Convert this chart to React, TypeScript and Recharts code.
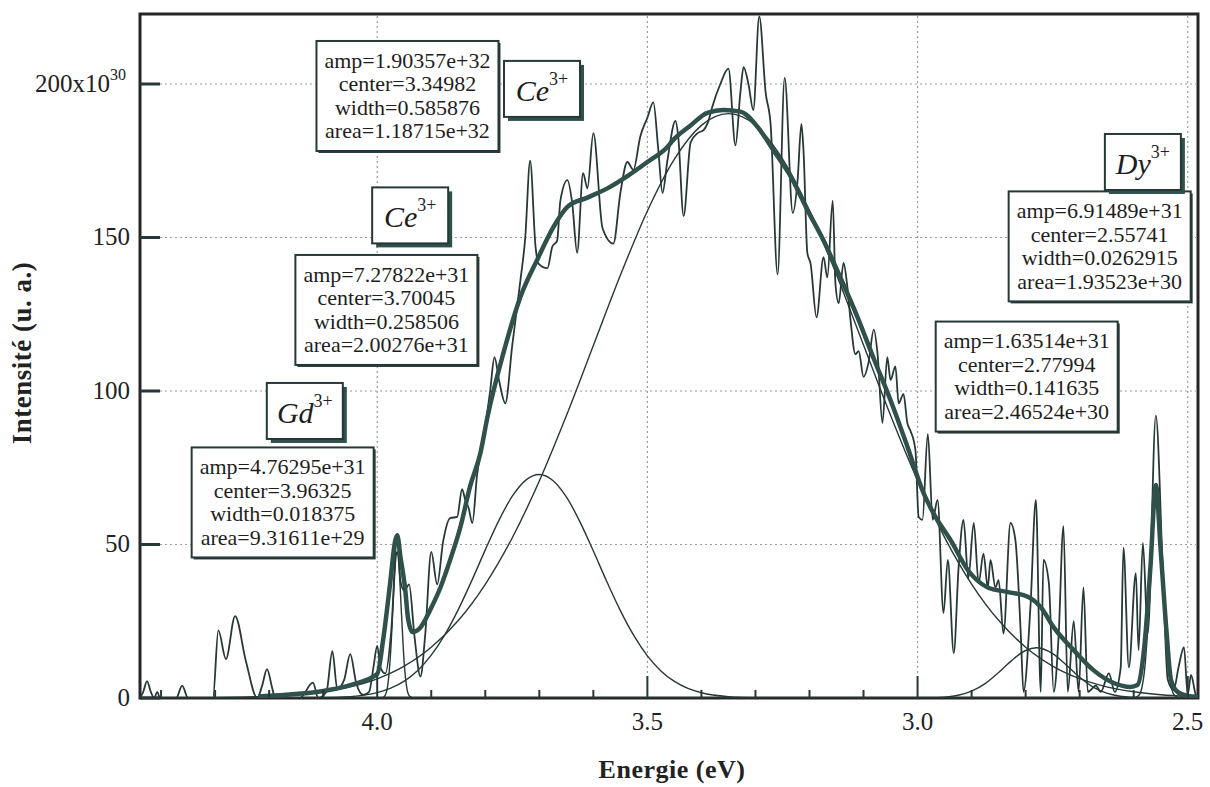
import React from 'react';
import {
  ComposedChart,
  Line,
  XAxis,
  YAxis,
  ReferenceLine,
  ReferenceArea,
  ReferenceDot
} from 'recharts';

// Energy axis (eV) runs right-to-left, intensity in units of 1e30
const X_MIN = 2.481;
const X_MAX = 4.439;
const Y_MAX = 222.8;

const X_TICKS = [2.5, 2.6, 2.7, 2.8, 2.9, 3.0, 3.1, 3.2, 3.3, 3.4, 3.5, 3.6, 3.7, 3.8, 3.9, 4.0, 4.1, 4.2, 4.3, 4.4];
const X_GRID = [2.5, 3.0, 3.5, 4.0];
const Y_TICKS = [0, 50, 100, 150, 200];
const Y_GRID = [50, 100, 150, 200];

// measured spectrum (noisy trace)
const SPEC_X = [
  4.439, 4.433, 4.426, 4.419, 4.413, 4.407, 4.402, 4.372, 4.361, 4.350, 4.304, 4.294, 4.280, 4.263, 4.243, 4.222,
  4.213, 4.204, 4.194, 4.189, 4.143, 4.119, 4.109, 4.094, 4.083, 4.074, 4.061, 4.050, 4.039, 4.026, 4.015, 4.007,
  4.000, 3.994, 3.985, 3.974, 3.963, 3.957, 3.950, 3.941, 3.931, 3.920, 3.911, 3.900, 3.889, 3.878, 3.865, 3.852,
  3.843, 3.837, 3.831, 3.824, 3.815, 3.804, 3.791, 3.783, 3.774, 3.763, 3.750, 3.735, 3.726, 3.717, 3.707, 3.702,
  3.685, 3.676, 3.667, 3.661, 3.648, 3.639, 3.630, 3.619, 3.611, 3.600, 3.583, 3.563, 3.550, 3.537, 3.526, 3.513,
  3.500, 3.489, 3.480, 3.472, 3.463, 3.448, 3.443, 3.433, 3.420, 3.407, 3.396, 3.387, 3.380, 3.365, 3.350, 3.337,
  3.328, 3.322, 3.313, 3.304, 3.293, 3.281, 3.272, 3.259, 3.246, 3.231, 3.222, 3.215, 3.211, 3.204, 3.198, 3.187,
  3.174, 3.167, 3.157, 3.152, 3.146, 3.137, 3.130, 3.124, 3.115, 3.109, 3.100, 3.091, 3.081, 3.074, 3.065, 3.056,
  3.050, 3.041, 3.035, 3.026, 3.019, 3.013, 3.004, 2.998, 2.991, 2.981, 2.972, 2.963, 2.952, 2.944, 2.933, 2.924,
  2.915, 2.906, 2.896, 2.887, 2.878, 2.870, 2.865, 2.856, 2.850, 2.841, 2.828, 2.819, 2.809, 2.804, 2.791, 2.781,
  2.772, 2.767, 2.757, 2.748, 2.739, 2.730, 2.722, 2.711, 2.702, 2.693, 2.685, 2.670, 2.661, 2.646, 2.635, 2.624,
  2.619, 2.609, 2.596, 2.591, 2.583, 2.574, 2.559, 2.546, 2.537, 2.526, 2.517, 2.507, 2.500, 2.494, 2.485, 2.481
];
const SPEC_Y = [
  0, 2, 5.5, 2, 0, 2, 0, 0, 4, 0, 0, 22, 12.7, 26.7, 12, 0,
  4, 9.4, 3, 0, 0, 5, 0, 2, 15.3, 3, 6, 14.3, 5, 1, 2, 10,
  17, 10, 8, 22, 53, 38, 35, 37, 20, 7, 21, 47.6, 37, 51, 58.6, 59,
  68, 64.5, 62, 57, 73, 84, 100, 111, 103, 96, 115, 136, 150, 175, 147, 141.6,
  140, 147, 149, 162, 168.7, 161, 145, 171, 166, 184, 153, 148, 164.5, 174.6, 172, 183,
  189, 194, 179, 164.5, 175, 188, 183, 157, 181, 184, 185, 188, 192.5, 200, 205, 180,
  197, 205.5, 200, 191.5, 222, 197, 187, 138, 202, 158, 168.7, 187, 178, 145, 141.5, 124,
  143.6, 137, 162, 135, 128.6, 141.7, 134, 123, 112, 113, 104.6, 109, 120, 112, 89.6, 111,
  103.6, 108, 96, 99, 89.6, 87, 80.8, 59, 58, 86, 58, 64.5, 27.7, 45, 14.6, 42.7,
  58, 39, 57, 37.5, 47, 36, 45, 36, 38.4, 21, 57, 51.5, 21, 2, 30, 64.5,
  2, 45, 37.5, 2, 20, 56, 2, 25, 2, 36, 2, 4, 2, 8, 2, 10,
  49, 10, 40.7, 15.6, 50.5, 21, 92, 40.7, 6, 2.6, 10, 16.6, 1, 7.5, 1, 0
];

// total fit (thick)
const FIT_X = [
  4.220, 4.200, 4.150, 4.100, 4.050, 4.000, 3.989, 3.976, 3.967, 3.963, 3.957, 3.948, 3.943, 3.935, 3.920, 3.902,
  3.883, 3.865, 3.846, 3.828, 3.809, 3.796, 3.767, 3.735, 3.704, 3.674, 3.648, 3.611, 3.574, 3.537, 3.500, 3.463,
  3.452, 3.420, 3.389, 3.359, 3.328, 3.296, 3.267, 3.235, 3.204, 3.174, 3.143, 3.111, 3.081, 3.050, 3.019, 2.989,
  2.970, 2.939, 2.907, 2.870, 2.833, 2.796, 2.772, 2.748, 2.711, 2.674, 2.637, 2.606, 2.593, 2.581, 2.569, 2.559,
  2.550, 2.539, 2.531, 2.519, 2.500, 2.481
];
const FIT_Y = [
  0.5, 0.7, 1.3, 2.3, 4.2, 7.8, 19, 37.5, 51, 53, 46, 35, 26, 21.5, 23, 28.7,
  36, 45, 55.7, 69, 79.8, 91.5, 112, 130.6, 142.7, 153.4, 160, 163, 166, 170, 174.6, 179.5,
  181.8, 186.5, 190.6, 191.5, 191, 186, 178.5, 170, 159, 149, 137, 124, 110.5, 97, 82, 66.8,
  60, 51.5, 41.7, 36, 34.5, 33, 29.6, 23, 15.6, 9, 4.9, 3.6, 4.2, 15.6, 42.7, 69.4,
  48, 21, 5.9, 2, 0.7, 0.4
];

// Ce3+ broad band (center 3.35)
const CE1_X = [
  4.44, 4.40, 4.35, 4.30, 4.25, 4.20, 4.15, 4.10, 4.05, 4.00, 3.95, 3.90, 3.85, 3.80, 3.75, 3.70,
  3.65, 3.60, 3.55, 3.50, 3.45, 3.40, 3.35, 3.30, 3.25, 3.20, 3.15, 3.10, 3.05, 3.00, 2.95, 2.90,
  2.85, 2.80, 2.75, 2.70, 2.65, 2.60, 2.55, 2.50, 2.481
];
const CE1_Y = [
  0.013, 0.026, 0.059, 0.13, 0.27, 0.56, 1.08, 2.02, 3.63, 6.26, 10.37, 16.51, 25.23, 37.04, 52.21, 70.70,
  91.94, 114.82, 137.71, 158.65, 175.53, 186.52, 190.36, 186.58, 175.64, 158.79, 137.88, 114.98, 92.09, 70.84, 52.34, 37.13,
  25.30, 16.56, 10.41, 6.29, 3.64, 2.03, 1.08, 0.56, 0.43
];

// Ce3+ band (center 3.70)
const CE2_X = [
  4.439, 4.20, 4.15, 4.10, 4.05, 4.00, 3.975, 3.95, 3.925, 3.90, 3.875, 3.85, 3.825, 3.80, 3.775, 3.75,
  3.725, 3.70, 3.675, 3.65, 3.625, 3.60, 3.575, 3.55, 3.525, 3.50, 3.475, 3.45, 3.425, 3.40, 3.35, 3.30,
  3.25, 3.20, 2.481
];
const CE2_Y = [
  0, 0, 0.02, 0.10, 0.46, 1.76, 3.19, 5.49, 8.98, 13.95, 20.56, 28.78, 38.24, 48.25, 57.79, 65.73,
  70.98, 72.78, 70.85, 65.49, 57.47, 47.89, 37.88, 28.45, 20.29, 13.74, 8.83, 5.39, 3.12, 1.72, 0.45, 0.09,
  0.02, 0, 0
];

// Gd3+ line
const GD_X = [4.439, 4.00, 3.99, 3.985, 3.98, 3.975, 3.97, 3.965, 3.963, 3.96, 3.955, 3.95, 3.945, 3.94, 3.935, 3.93, 2.481];
const GD_Y = [0, 0, 0.13, 0.98, 4.76, 15.33, 32.76, 46.45, 47.63, 43.67, 27.24, 11.27, 3.09, 0.56, 0.07, 0, 0];

// small band (center 2.78)
const B5_X = [
  4.439, 3.00, 2.975, 2.95, 2.925, 2.90, 2.875, 2.85, 2.825, 2.80, 2.78, 2.775, 2.75, 2.725, 2.70, 2.675,
  2.65, 2.625, 2.60, 2.575, 2.55, 2.481
];
const B5_Y = [
  0, 0.02, 0.09, 0.30, 0.89, 2.23, 4.69, 8.30, 12.35, 15.47, 16.35, 16.30, 14.45, 10.77, 6.76, 3.57,
  1.59, 0.59, 0.19, 0.05, 0.01, 0
];

// Dy3+ line
const DY_X = [4.439, 2.60, 2.59, 2.585, 2.58, 2.575, 2.57, 2.565, 2.56, 2.557, 2.555, 2.55, 2.545, 2.54, 2.535, 2.53, 2.525, 2.515, 2.481];
const DY_Y = [0, 0.05, 0.98, 3.26, 8.93, 19.99, 36.62, 54.88, 67.31, 69.15, 67.56, 55.48, 37.28, 20.50, 9.22, 3.40, 1.02, 0.05, 0];

// fit parameter boxes, anchored at their centre (data units)
const PARAM_BOXES = [
  { x: 3.944, y: 196.1, lines: ['amp=1.90357e+32', 'center=3.34982', 'width=0.585876', 'area=1.18715e+32'] },
  { x: 3.983, y: 126.4, lines: ['amp=7.27822e+31', 'center=3.70045', 'width=0.258506', 'area=2.00276e+31'] },
  { x: 4.175, y: 63.7, lines: ['amp=4.76295e+31', 'center=3.96325', 'width=0.018375', 'area=9.31611e+29'] },
  { x: 2.663, y: 147.1, lines: ['amp=6.91489e+31', 'center=2.55741', 'width=0.0262915', 'area=1.93523e+30'] },
  { x: 2.798, y: 104.7, lines: ['amp=1.63514e+31', 'center=2.77994', 'width=0.141635', 'area=2.46524e+30'] }
];

// ion labels
const ION_LABELS = [
  { x: 3.695, y: 198.4, ion: 'Ce', charge: '3+' },
  { x: 3.939, y: 157.2, ion: 'Ce', charge: '3+' },
  { x: 4.134, y: 93.5, ion: 'Gd', charge: '3+' },
  { x: 2.583, y: 174.6, ion: 'Dy', charge: '3+' }
];

const toPoints = (xs: number[], ys: number[]) => xs.map((x, i) => ({ x, y: ys[i] }));

const spectrum = toPoints(SPEC_X, SPEC_Y);
const fit = toPoints(FIT_X, FIT_Y);
const components = [
  toPoints(CE1_X, CE1_Y),
  toPoints(CE2_X, CE2_Y),
  toPoints(GD_X, GD_Y),
  toPoints(B5_X, B5_Y),
  toPoints(DY_X, DY_Y)
];

const FONT = '"Liberation Serif", "DejaVu Serif", serif';
const INK = '#263936';
const FIT_COLOR = '#2f504b';

// inward ticks: long at 0.5 eV, short at 0.1 eV
const XTick = (props: any) => {
  const { x, y, payload } = props;
  const v = payload.value as number;
  const major = Math.abs(v * 2 - Math.round(v * 2)) < 1e-6;
  return (
    <g>
      <line x1={x} x2={x} y1={y} y2={y - (major ? 22 : 8)} stroke={INK} strokeWidth={2} />
      {major && (
        <text x={x} y={y + 32} textAnchor="middle" fontSize={25} fontFamily={FONT} fill="#222">
          {v.toFixed(1)}
        </text>
      )}
    </g>
  );
};

const YTick = (props: any) => {
  const { x, y, payload } = props;
  const v = payload.value as number;
  return (
    <g>
      <line x1={x} x2={x + 20} y1={y} y2={y} stroke={INK} strokeWidth={3} />
      {v === 200 ? (
        <text x={x - 14} y={y + 8} textAnchor="end" fontSize={25} fontFamily={FONT} fill="#222">
          200x10<tspan dy={-12} fontSize={16}>30</tspan>
        </text>
      ) : (
        <text x={x - 10} y={y + 8} textAnchor="end" fontSize={25} fontFamily={FONT} fill="#222">
          {v}
        </text>
      )}
    </g>
  );
};

const ParamBox = ({ cx, cy, lines }: { cx: number; cy: number; lines: string[] }) => {
  const w = 182;
  const h = 110;
  return (
    <g>
      <rect x={cx - w / 2 + 2} y={cy - h / 2 + 2} width={w} height={h} fill={INK} />
      <rect x={cx - w / 2} y={cy - h / 2} width={w} height={h} fill="#fff" stroke={INK} strokeWidth={2} />
      {lines.map((t, i) => (
        <text
          key={i}
          x={cx}
          y={cy + (i - 1.5) * 23.5 + 7}
          textAnchor="middle"
          fontSize={22}
          fontFamily={FONT}
          fill="#1e1e1e"
        >
          {t}
        </text>
      ))}
    </g>
  );
};

const IonBox = ({ cx, cy, ion, charge }: { cx: number; cy: number; ion: string; charge: string }) => {
  const w = 76;
  const h = 56;
  return (
    <g>
      <rect x={cx - w / 2 + 4} y={cy - h / 2 + 4} width={w} height={h} fill={FIT_COLOR} />
      <rect x={cx - w / 2} y={cy - h / 2} width={w} height={h} fill="#fff" stroke={INK} strokeWidth={2} />
      <text x={cx} y={cy + 12} textAnchor="middle" fontSize={30} fontStyle="italic" fontFamily={FONT} fill="#1e1e1e">
        {ion}
        <tspan dy={-16} fontSize={18} fontStyle="normal">{charge}</tspan>
      </text>
    </g>
  );
};

export default function App() {
  return (
    <div style={{ position: 'absolute', left: 0, top: 0, width: 1210, height: 787, background: '#fff', fontFamily: FONT }}>
      <ComposedChart width={1210} height={787} margin={{ top: 14, right: 12, bottom: 88, left: 139 }}>
        <XAxis
          dataKey="x"
          type="number"
          domain={[X_MIN, X_MAX]}
          allowDataOverflow
          reversed
          ticks={X_TICKS}
          interval={0}
          height={1}
          tickSize={0}
          tickMargin={0}
          axisLine={false}
          tickLine={false}
          tick={XTick}
        />
        <YAxis
          dataKey="y"
          type="number"
          domain={[0, Y_MAX]}
          allowDataOverflow
          ticks={Y_TICKS}
          interval={0}
          width={1}
          tickSize={0}
          tickMargin={0}
          axisLine={false}
          tickLine={false}
          tick={YTick}
        />

        {Y_GRID.map((v) => (
          <ReferenceLine key={`gy${v}`} y={v} stroke="#9c9c9c" strokeDasharray="2 3" strokeWidth={1.2} />
        ))}
        {X_GRID.map((v) => (
          <ReferenceLine key={`gx${v}`} x={v} stroke="#9c9c9c" strokeDasharray="2 3" strokeWidth={1.2} />
        ))}

        {components.map((d, i) => (
          <Line
            key={`c${i}`}
            data={d}
            dataKey="y"
            type="monotone"
            stroke={INK}
            strokeWidth={1.4}
            dot={false}
            isAnimationActive={false}
          />
        ))}
        <Line data={spectrum} dataKey="y" type="monotone" stroke={INK} strokeWidth={1.8} dot={false} isAnimationActive={false} />
        <Line data={fit} dataKey="y" type="monotone" stroke={FIT_COLOR} strokeWidth={4.5} dot={false} isAnimationActive={false} />

        <ReferenceArea x1={X_MIN} x2={X_MAX} y1={0} y2={Y_MAX} fill="none" stroke="#262626" strokeWidth={3} fillOpacity={0} />

        {PARAM_BOXES.map((b, i) => (
          <ReferenceDot
            key={`p${i}`}
            x={b.x}
            y={b.y}
            r={0}
            ifOverflow="visible"
            shape={(p: any) => <ParamBox cx={p.cx} cy={p.cy} lines={b.lines} />}
          />
        ))}
        {ION_LABELS.map((b, i) => (
          <ReferenceDot
            key={`l${i}`}
            x={b.x}
            y={b.y}
            r={0}
            ifOverflow="visible"
            shape={(p: any) => <IonBox cx={p.cx} cy={p.cy} ion={b.ion} charge={b.charge} />}
          />
        ))}
      </ComposedChart>

      <div
        style={{
          position: 'absolute',
          left: 22,
          top: 353,
          transform: 'translate(-50%, -50%) rotate(-90deg)',
          whiteSpace: 'nowrap',
          fontWeight: 'bold',
          fontSize: 27,
          letterSpacing: 0.5,
          color: '#222'
        }}
      >
        Intensité (u. a.)
      </div>
      <div
        style={{
          position: 'absolute',
          left: 672,
          top: 770,
          transform: 'translate(-50%, -50%)',
          whiteSpace: 'nowrap',
          fontWeight: 'bold',
          fontSize: 26,
          letterSpacing: 0.5,
          color: '#222'
        }}
      >
        Energie (eV)
      </div>
    </div>
  );
}
